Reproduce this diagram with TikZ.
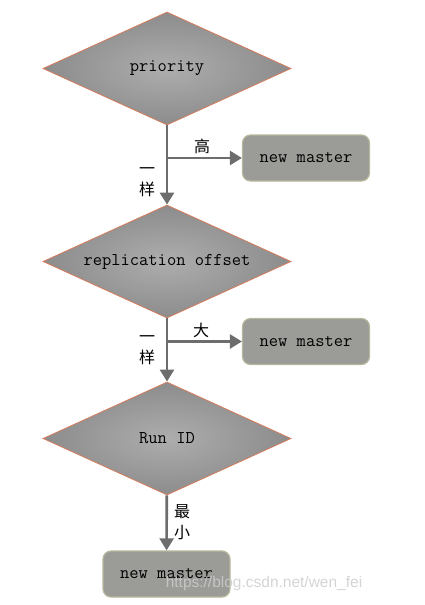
\documentclass[tikz,border=0pt]{standalone}
\usepackage{fontspec}
\usetikzlibrary{shapes.geometric, arrows.meta, positioning}
\newfontfamily\cjk{Noto Sans CJK SC}
\newfontfamily\wmfont{Liberation Sans}

\definecolor{diaEdge}{HTML}{D47C5C}
\definecolor{diaIn}{HTML}{ADADAD}
\definecolor{diaOut}{HTML}{8C8C8C}
\definecolor{boxFill}{HTML}{9B9B98}
\definecolor{boxEdge}{HTML}{B9B89C}
\definecolor{flowLine}{HTML}{6D6D6D}

\begin{document}
\begin{tikzpicture}[x=1pt, y=-1pt,
  decision/.style={diamond, draw=diaEdge, line width=0.8pt, shading=radial,
    inner color=diaIn, outer color=diaOut, inner sep=0pt, aspect=2.2,
    minimum width=248pt, minimum height=113pt,
    font=\ttfamily\fontsize{18}{21}\selectfont},
  result/.style={rectangle, rounded corners=8pt, draw=boxEdge, line width=1.2pt,
    fill=boxFill, minimum width=127pt, minimum height=46pt,
    font=\ttfamily\fontsize{18}{21}\selectfont},
  flow/.style={draw=flowLine, line width=2.6pt, ->, >={Triangle[length=12pt,width=14pt]}},
  answer/.style={font=\cjk\fontsize{16}{18}\selectfont, inner sep=0pt, align=center}]
\useasboundingbox (0,0) rectangle (425,605);

% the three checks
\node[decision] (prio) at (167,68.5) {priority};
\node[decision] (offset) at (167,261.5) {replication offset};
\node[decision] (runid) at (167,438.5) {Run ID};

% the new masters
\node[result] (newA) at (306,158) {new master};
\node[result] (newB) at (306,341.5) {new master};
\node[result] (newC) at (166.5,574) {new master};

% down the chain
\draw[flow] (prio) -- (offset);
\draw[flow] (offset) -- (runid);
\draw[flow] (runid) -- (newC);

% out to the side
\draw[flow] (prio.south |- newA.west) -- (newA.west);
\draw[flow] (offset.south |- newB.west) -- (newB.west);

\node[answer] (high) at (202,146) {高};
\node[answer] (sameA) at (147,182) {一\\[3pt]样};
\node[answer] (big) at (201,330) {大};
\node[answer] (sameB) at (147,350) {一\\[3pt]样};
\node[answer] (least) at (182,522) {最\\[3pt]小};

%\node at (264,583) {watermark};
\node[font=\wmfont\fontsize{15.5}{18}\selectfont, text=gray!40, text opacity=0.85]
  (mark) at (264,583) {https://blog.csdn.net/wen\_fei};
\end{tikzpicture}
\end{document}
